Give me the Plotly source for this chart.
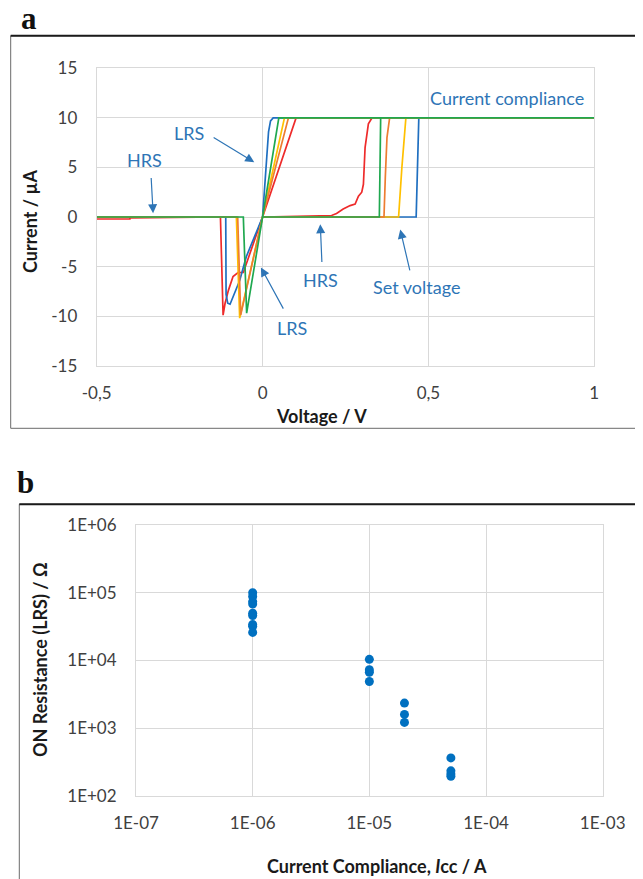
import plotly.graph_objects as go

# page is 643x879 with an 8px body margin -> figure is drawn 8px in from the top-left
OFF = 8
W, H = 643 - OFF, 879 - OFF

# ---------------- Panel a data: I-V sweeps (V in volts, I in µA) ----------------
red_v = [0, 0.168, 0.208, 0.223, 0.243, 0.264, 0.279, 0.289, 0.299, 0.304, 0.309, 0.319, 0.330, 1.0,
         0.101, 0, -0.058, -0.074, -0.089, -0.103, -0.113, -0.119, -0.127, -0.40, -0.40, -0.5]
red_i = [0, 0.1, 0.15, 0.35, 0.8, 1.15, 1.3, 2.1, 2.5, 3.3, 7.0, 9.4, 10, 10,
         10, 0, -5.6, -5.6, -6.0, -7.4, -8.7, -9.9, 0, -0.1, -0.2, -0.2]

blue_v = [0, 0.463, 0.471, 1.0, 0.032, 0.024, 0.018, 0, -0.049, -0.069, -0.089, -0.098, -0.105, -0.110, -0.111, -0.5]
blue_i = [0, 0, 10, 10, 10, 9.7, 8.6, 0, -4.0, -6.4, -8.0, -8.8, -8.7, -7.8, 0, 0]

yellow_v = [0, 0.410, 0.420, 0.432, 1.0, 0.066, 0, -0.069, -0.079, -0.5]
yellow_i = [0, 0, 5, 10, 10, 10, 0, -10.2, 0, 0]

orange_v = [0, 0.366, 0.370, 0.375, 0.383, 1.0, 0.078, 0, -0.066, -0.075, -0.5]
orange_i = [0, 0, 4, 8, 10, 10, 10, 0, -9.9, 0, 0]

green_v = [0, 0.352, 0.356, 1.0, 0.049, 0, -0.048, -0.058, -0.5]
green_i = [0, 0, 10, 10, 10, 0, -9.7, 0, 0]

volt_ticks = [-0.5, 0, 0.5, 1]
volt_ticktext = ["-0,5", "0", "0,5", "1"]
curr_ticks = [-15, -10, -5, 0, 5, 10, 15]
curr_ticktext = ["-15", "-10", "-5", "0", "5", "10", "15"]

# ---------------- Panel b data: ON resistance vs current compliance ----------------
icc = [1e-6] * 9 + [1e-5] * 4 + [2e-5] * 3 + [5e-5] * 4
r_on = [100000, 88000, 74000, 68000, 50000, 46000, 34000, 32000, 26000,
        10400, 7300, 6700, 4900,
        2350, 1600, 1220,
        365, 235, 212, 195]
icc_ticks = [1e-7, 1e-6, 1e-5, 1e-4, 1e-3]
icc_ticktext = ["1E-07", "1E-06", "1E-05", "1E-04", "1E-03"]
r_ticks = [1e2, 1e3, 1e4, 1e5, 1e6]
r_ticktext = ["1E+02", "1E+03", "1E+04", "1E+05", "1E+06"]

FONT = "Lato, 'Open Sans', sans-serif"
TICKC = "#404040"
GRID = "#d9d9d9"
BLUE_T = "#2E75B6"


def px(p):
    return (p - OFF) / W


def py(p):
    return 1 - (p - OFF) / H


fig = go.Figure()
for v, i, c in [(red_v, red_i, "#EE2B2B"), (blue_v, blue_i, "#1F6FC0"),
                (yellow_v, yellow_i, "#FFC000"), (orange_v, orange_i, "#ED7D31"),
                (green_v, green_i, "#1FA84F")]:
    fig.add_trace(go.Scatter(x=v, y=i, mode="lines", line=dict(color=c, width=1.7),
                             xaxis="x", yaxis="y", showlegend=False, hoverinfo="skip"))

fig.add_trace(go.Scatter(x=icc, y=r_on, mode="markers",
                         marker=dict(color="#0070C0", size=9),
                         xaxis="x2", yaxis="y2", showlegend=False))

axis_common = dict(showgrid=True, gridcolor=GRID, gridwidth=1, zeroline=False,
                   showline=True, linecolor=GRID, linewidth=1, mirror=True,
                   ticks="outside", tickcolor="rgba(0,0,0,0)", automargin=False,
                   tickfont=dict(family=FONT, size=17, color=TICKC))

fig.update_layout(
    width=W, height=H, margin=dict(l=0, r=0, t=0, b=0, autoexpand=False),
    paper_bgcolor="white", plot_bgcolor="white",
    xaxis=dict(domain=[px(96.7), px(594.3)], range=[-0.5, 1], tickvals=volt_ticks,
               ticktext=volt_ticktext, anchor="y", ticklen=12, **axis_common),
    yaxis=dict(domain=[py(365.7), py(68.3)], range=[-15, 15], tickvals=curr_ticks,
               ticktext=curr_ticktext, anchor="x", ticklen=15, **axis_common),
    xaxis2=dict(domain=[px(136), px(602.7)], type="log", range=[-7, -3], tickvals=icc_ticks,
                ticktext=icc_ticktext, anchor="y2", ticklen=12, **axis_common),
    yaxis2=dict(domain=[py(796), py(525)], type="log", range=[2, 6], tickvals=r_ticks,
                ticktext=r_ticktext, anchor="x2", ticklen=15, **axis_common),
)

shapes = [
    dict(type="rect", xref="paper", yref="paper", x0=px(10.7), x1=px(637),
         y0=py(428.3), y1=py(35.7), line=dict(color="#6b6b6b", width=1), layer="below"),
    dict(type="line", xref="paper", yref="paper", x0=px(10.7), x1=1.0,
         y0=py(35.7), y1=py(35.7), line=dict(color="#1a1a1a", width=2)),
    dict(type="rect", xref="paper", yref="paper", x0=px(19.3), x1=px(637),
         y0=py(900), y1=py(504.3), line=dict(color="#6b6b6b", width=1), layer="below"),
    dict(type="line", xref="paper", yref="paper", x0=px(19.3), x1=1.0,
         y0=py(504.3), y1=py(504.3), line=dict(color="#1a1a1a", width=2)),
]
fig.update_layout(shapes=shapes)

ann = []
# panel letters
ann.append(dict(text="<b>a</b>", xref="paper", yref="paper", x=px(19), y=py(19),
                xanchor="left", yanchor="middle", showarrow=False,
                font=dict(family="Liberation Serif, serif", size=31, color="#111")))
ann.append(dict(text="<b>b</b>", xref="paper", yref="paper", x=px(15), y=py(482),
                xanchor="left", yanchor="middle", showarrow=False,
                font=dict(family="Liberation Serif, serif", size=31, color="#111")))
# axis titles
tfont = dict(family=FONT, size=18, color="#1a1a1a")
ann.append(dict(text="<b>Voltage / V</b>", xref="paper", yref="paper", x=px(321.7), y=py(416),
                xanchor="center", yanchor="middle", showarrow=False, font=tfont))
ann.append(dict(text="<b>Current / µA</b>", xref="paper", yref="paper", x=px(30), y=py(222),
                xanchor="center", yanchor="middle", showarrow=False, textangle=-90, font=tfont))
ann.append(dict(text="<b>Current Compliance, <i>I</i>cc / A</b>", xref="paper", yref="paper",
                x=px(376.7), y=py(866), xanchor="center", yanchor="middle", showarrow=False, font=tfont))
ann.append(dict(text="<b>ON Resistance (LRS) / Ω</b>", xref="paper", yref="paper", x=px(40), y=py(660),
                xanchor="center", yanchor="middle", showarrow=False, textangle=-90, font=tfont))

# blue labels in panel a
lfont = dict(family=FONT, size=18, color=BLUE_T)
labels = [("Current compliance", 0.737, 12.0), ("LRS", -0.221, 8.45), ("HRS", -0.356, 5.7),
          ("HRS", 0.176, -6.37), ("Set voltage", 0.465, -7.04), ("LRS", 0.0886, -11.23)]
for t, x, y in labels:
    ann.append(dict(text=t, x=x, y=y, xref="x", yref="y", showarrow=False,
                    xanchor="center", yanchor="middle", font=lfont))
arrows = [(-0.025, 5.53, -0.152, 8.12), (-0.330, 0.37, -0.336, 4.09), (0.174, -0.73, 0.179, -4.69),
          (0.415, -1.27, 0.445, -5.53), (-0.005, -5.09, 0.065, -9.39)]
for x, y, ax, ay in arrows:
    ann.append(dict(text="", x=x, y=y, ax=ax, ay=ay, xref="x", yref="y", axref="x", ayref="y",
                    showarrow=True, arrowhead=2, arrowsize=1.5, arrowwidth=1.2,
                    arrowcolor=BLUE_T, standoff=0))
fig.update_layout(annotations=ann)

fig.write_html("out.html")
